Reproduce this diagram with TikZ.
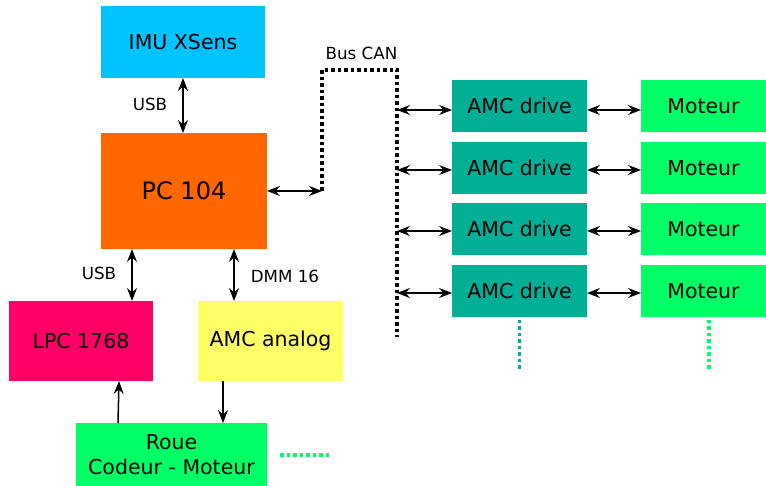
\documentclass[tikz,border=0pt]{standalone}
\usepackage{fontspec}
\setmainfont{DejaVu Sans}
\usetikzlibrary{arrows.meta,calc}
\definecolor{cimu}{RGB}{0,195,255}
\definecolor{cpc}{RGB}{255,102,0}
\definecolor{clpc}{RGB}{255,0,102}
\definecolor{cyel}{RGB}{255,255,102}
\definecolor{cgreen}{RGB}{0,255,102}
\definecolor{cteal}{RGB}{0,175,150}
\tikzset{
  box/.style={rectangle, inner sep=0pt, outer sep=0pt, font=\fontsize{20.5}{25}\selectfont, align=center},
  lbl/.style={font=\fontsize{16.7}{20}\selectfont, inner sep=0pt},
  conn/.style={line width=1.5pt, -{Stealth[length=13pt,width=10pt,inset=4.5pt]}},
  bconn/.style={line width=1.5pt, {Stealth[length=13pt,width=10pt,inset=4.5pt]}-{Stealth[length=13pt,width=10pt,inset=4.5pt]}},
  bus/.style={line width=3.5pt, dash pattern=on 3.5pt off 3pt},
}
\begin{document}
\begin{tikzpicture}[x=1pt,y=-1pt]
\useasboundingbox (0,0) rectangle (766,486);
% boxes
\node[box, fill=cimu, minimum width=164pt, minimum height=72pt] (imu) at (183,42) {IMU XSens};
\node[box, fill=cpc, minimum width=166pt, minimum height=116pt, font=\fontsize{24}{28}\selectfont] (pc) at (184,191) {PC 104};
\node[box, fill=clpc, minimum width=144pt, minimum height=80pt] (lpc) at (81,341) {LPC 1768};
\node[box, fill=cyel, minimum width=145pt, minimum height=80pt] (ana) at (270.5,341) {AMC analog};
\node[box, fill=cgreen, minimum width=191pt, minimum height=63pt] (roue) at (171.5,454.5) {Roue\\Codeur - Moteur};
\foreach \i/\y in {1/106,2/168,3/229,4/291}{
  \node[box, fill=cteal, minimum width=135pt, minimum height=52pt] (d\i) at (519.5,\y) {AMC drive};
  \node[box, fill=cgreen, minimum width=125pt, minimum height=52pt] (m\i) at (703.5,\y) {Moteur};
}
% bus
\coordinate (b1) at (322,191);
\coordinate (b2) at (322,70);
\coordinate (b3) at (397,70);
\coordinate (b4) at (397,337);
\draw[bus] (b1) -- (b2) -- (b3) -- (b4);
\node[lbl] (buslbl) at (361.5,53) {Bus CAN};
% connectors
\draw[bconn] (imu.south) -- (imu.south |- pc.north);
\node[lbl] (usb1) at (150,104) {USB};
\coordinate (p1) at ($(pc.south west)+(31,0)$);
\draw[bconn] (p1) -- (p1 |- lpc.north);
\node[lbl] (usb2) at (99,273) {USB};
\coordinate (p2) at ($(pc.south west)+(133,0)$);
\draw[bconn] (p2) -- (p2 |- ana.north);
\node[lbl] (dmm) at (285,276) {DMM 16};
\coordinate (r1) at ($(roue.north west)+(42,0)$);
\coordinate (l1) at ($(lpc.south west)+(110,0)$);
\draw[conn] (r1) -- (l1);
\coordinate (a1) at ($(ana.south west)+(25,0)$);
\draw[conn] (a1) -- (a1 |- roue.north);
\draw[bconn] (pc.east |- b1) -- (b1);
\foreach \i/\y in {1/110,2/170,3/231,4/293}{
  \coordinate (t\i) at (397,\y);
  \draw[bconn] (t\i) -- (t\i -| d\i.west);
  \draw[bconn] (d\i.east |- t\i) -- (t\i -| m\i.west);
}
% continuation dots
\coordinate (c1) at (519.5,320);
\coordinate (c2) at (519.5,372);
\draw[bus, cteal] (c1) -- (c2);
\coordinate (c3) at (709,320);
\coordinate (c4) at (709,372);
\draw[bus, cgreen] (c3) -- (c4);
\coordinate (c5) at (280,455);
\coordinate (c6) at (331,455);
\draw[bus, cgreen] (c5) -- (c6);
\end{tikzpicture}
\end{document}
